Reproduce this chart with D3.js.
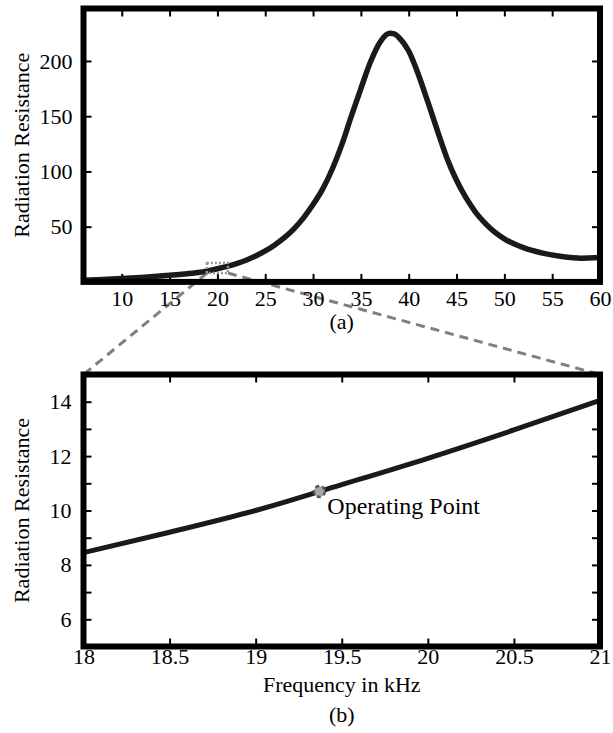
<!DOCTYPE html>
<html><head><meta charset="utf-8">
<script src="https://cdn.jsdelivr.net/npm/d3@7"></script>
<style>
html,body{margin:0;padding:0;background:#fff;}
svg text{font-family:"Liberation Serif","Times New Roman",serif;fill:#000;}
</style></head>
<body><svg id="c" width="613" height="733"></svg>
<script>
// ---- data ----
const topFreq = [6,8,10,12,14,16,18,19,20,21,22,23,24,25,26,27,28,29,30,31,32,33,34,35,36,37,38,38.5,39,40,41,42,43,44,45,46,47,48,49,50,52,54,56,58,60];
const topRes  = [1.5,2.2,3.0,4.0,5.3,6.8,8.45,10.0,11.92,14.05,16.6,19.6,23.5,28,33.5,40,48,58,70,84,102,124,150,175,199,217,225,224.5,221,209,188,163,137,112,92,76,63,53,45,39,31,26,23,21.5,22];
const zoomFreq = [18,18.5,19,19.5,20,20.5,21];
const zoomRes  = [8.45,9.2,10.0,10.95,11.92,12.96,14.05];
const opPoint = {freq: 19.37, res: 10.7, label: "Operating Point"};
const zoomBox = {f0: 18.9, f1: 21.1, r0: 8, r1: 17};
const topXTicks = [10,15,20,25,30,35,40,45,50,55,60];
const topYTicks = [50,100,150,200];
const botXTicks = [18,18.5,19,19.5,20,20.5,21];
const botYTicks = [5,6,7,8,9,10,11,12,13,14,15];
const botYLabels = [6,8,10,12,14];
const yTitle = "Radiation Resistance";
const xTitle = "Frequency in kHz";

// ---- layout ----
const svg = d3.select("#c");
const L = 83.5, R = 600;
const pA = {t: 8.5, b: 281.9};
const pB = {t: 374.5, b: 646.5};
const FS = 22;

const xA = d3.scaleLinear().domain([6,60]).range([L,R]);
const yA = d3.scaleLinear().domain([0,247.5]).range([pA.b, pA.t]);
const xB = d3.scaleLinear().domain([18,21]).range([L,R]);
const yB = d3.scaleLinear().domain([5,15]).range([pB.b, pB.t]);

function styleAxis(g){
  g.select(".domain").remove();
  g.selectAll(".tick line").attr("stroke","#000").attr("stroke-width",2);
  g.selectAll(".tick text").attr("font-size",FS).attr("font-family","Liberation Serif, Times New Roman, serif").attr("fill","#000");
}

// ---- connector dashed lines (behind) ----
const conn = svg.append("g").attr("stroke","#808080").attr("stroke-width",3).attr("stroke-dasharray","9,6").attr("fill","none");
conn.append("line").attr("x1",xA(zoomBox.f0)).attr("y1",yA(zoomBox.r0)).attr("x2",xB(18)).attr("y2",yB(15));
conn.append("line").attr("x1",xA(zoomBox.f1)).attr("y1",yA(zoomBox.r0)).attr("x2",xB(21)).attr("y2",yB(15));

// ---- top plot ----
const gA = svg.append("g");
gA.append("g").attr("transform",`translate(0,${pA.b})`)
  .call(d3.axisBottom(xA).tickValues(topXTicks).tickSize(-8).tickPadding(8).tickFormat(d=>d)).call(styleAxis);
gA.append("g").attr("transform",`translate(0,${pA.t})`)
  .call(d3.axisTop(xA).tickValues(topXTicks.filter(d=>d<60)).tickSize(-8).tickFormat("")).call(styleAxis);
gA.append("g").attr("transform",`translate(${L},0)`)
  .call(d3.axisLeft(yA).tickValues(topYTicks).tickSize(-8).tickPadding(11).tickFormat(d=>d)).call(styleAxis);
gA.append("g").attr("transform",`translate(${R},0)`)
  .call(d3.axisRight(yA).tickValues(topYTicks).tickSize(-8).tickFormat("")).call(styleAxis);

gA.append("path").datum(topFreq.map((f,i)=>[f,topRes[i]]))
  .attr("fill","none").attr("stroke","#1a1a1a").attr("stroke-width",5.5).attr("stroke-linejoin","round")
  .attr("d", d3.line().x(d=>xA(d[0])).y(d=>yA(d[1])).curve(d3.curveMonotoneX));

gA.append("rect").attr("x",xA(zoomBox.f0)).attr("y",yA(zoomBox.r1))
  .attr("width",xA(zoomBox.f1)-xA(zoomBox.f0)).attr("height",yA(zoomBox.r0)-yA(zoomBox.r1))
  .attr("fill","none").attr("stroke","#999").attr("stroke-width",2.5).attr("stroke-dasharray","2,2");

gA.append("rect").attr("x",L).attr("y",pA.t).attr("width",R-L).attr("height",pA.b-pA.t)
  .attr("fill","none").attr("stroke","#000").attr("stroke-width",6);

gA.append("text").attr("transform",`translate(29,${(pA.t+pA.b)/2}) rotate(-90)`)
  .attr("text-anchor","middle").attr("font-size",FS).text(yTitle);
gA.append("text").attr("x",(L+R)/2).attr("y",329).attr("text-anchor","middle").attr("font-size",FS).text("(a)");

// ---- bottom plot ----
const gB = svg.append("g");
const clip = svg.append("clipPath").attr("id","clipB");
clip.append("rect").attr("x",L).attr("y",pB.t).attr("width",R-L).attr("height",pB.b-pB.t);

gB.append("g").attr("transform",`translate(0,${pB.b})`)
  .call(d3.axisBottom(xB).tickValues(botXTicks).tickSize(-8).tickPadding(2).tickFormat(d=>String(d))).call(styleAxis);
gB.append("g").attr("transform",`translate(0,${pB.t})`)
  .call(d3.axisTop(xB).tickValues(botXTicks.filter(d=>d>18&&d<21)).tickSize(-8).tickFormat("")).call(styleAxis);
gB.append("g").attr("transform",`translate(${L},0)`)
  .call(d3.axisLeft(yB).tickValues(botYTicks).tickSize(-8).tickPadding(12).tickFormat(d=>botYLabels.includes(d)?d:"")).call(styleAxis);
gB.append("g").attr("transform",`translate(${R},0)`)
  .call(d3.axisRight(yB).tickValues(botYTicks).tickSize(-8).tickFormat("")).call(styleAxis);

gB.append("path").datum(zoomFreq.map((f,i)=>[f,zoomRes[i]]))
  .attr("clip-path","url(#clipB)")
  .attr("fill","none").attr("stroke","#1a1a1a").attr("stroke-width",5)
  .attr("d", d3.line().x(d=>xB(d[0])).y(d=>yB(d[1])).curve(d3.curveMonotoneX));

gB.append("circle").attr("cx",xB(opPoint.freq)).attr("cy",yB(opPoint.res)).attr("r",5.5)
  .attr("fill","#a8a8a8").attr("stroke","#555").attr("stroke-width",2.5).attr("stroke-dasharray","4,3");
gB.append("text").attr("x",xB(opPoint.freq)+8).attr("y",yB(opPoint.res)+23).attr("font-size",24).text(opPoint.label);

gB.append("rect").attr("x",L).attr("y",pB.t).attr("width",R-L).attr("height",pB.b-pB.t)
  .attr("fill","none").attr("stroke","#000").attr("stroke-width",6);

gB.append("text").attr("transform",`translate(29,${(pB.t+pB.b)/2}) rotate(-90)`)
  .attr("text-anchor","middle").attr("font-size",FS).text(yTitle);
gB.append("text").attr("x",(L+R)/2).attr("y",692).attr("text-anchor","middle").attr("font-size",FS).text(xTitle);
gB.append("text").attr("x",(L+R)/2).attr("y",722).attr("text-anchor","middle").attr("font-size",FS).text("(b)");
</script></body></html>
